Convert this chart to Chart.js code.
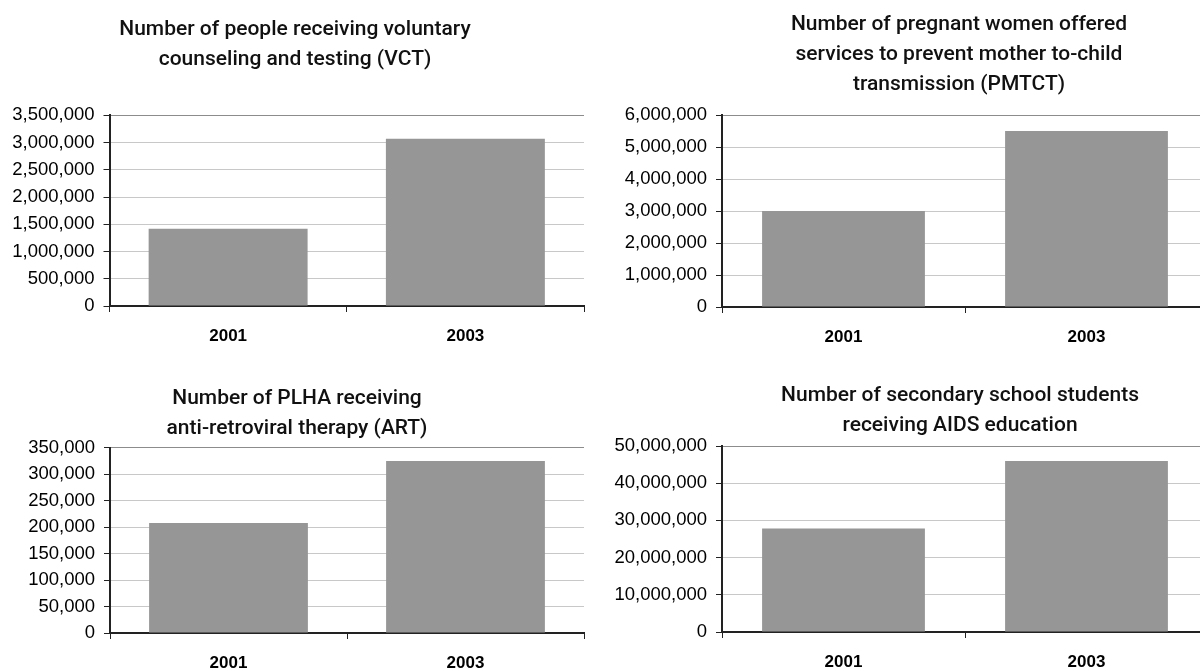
<!DOCTYPE html>
<html>
<head>
<meta charset="utf-8">
<script src="https://cdn.jsdelivr.net/npm/chart.js@4.4.1/dist/chart.umd.min.js"></script>
<style>
  html, body { margin: 0; padding: 0; background: #fff; overflow: hidden; }
  body { width: 1200px; height: 671px; position: relative; }
  canvas { position: absolute; }
</style>
</head>
<body>
<canvas id="vctChart"></canvas>
<canvas id="pmtctChart"></canvas>
<canvas id="artChart"></canvas>
<canvas id="aidsChart"></canvas>
<script>
// ---- data ----
const years = ['2001', '2003'];

const vctValues   = [1420000, 3070000];
const pmtctValues = [3000000, 5500000];
const artValues   = [208000, 325000];
const aidsValues  = [27800000, 46000000];

const vctTitle   = ['Number of people receiving voluntary', 'counseling and testing (VCT)'];
const pmtctTitle = ['Number of pregnant women offered', 'services to prevent mother to-child', 'transmission (PMTCT)'];
const artTitle   = ['Number of PLHA receiving', 'anti-retroviral therapy (ART)'];
const aidsTitle  = ['Number of secondary school students', 'receiving AIDS education'];

const vctTicks   = { max: 3500000,  step: 500000 };
const pmtctTicks = { max: 6000000,  step: 1000000 };
const artTicks   = { max: 350000,   step: 50000 };
const aidsTicks  = { max: 50000000, step: 10000000 };

// ---- look ----
const BAR = '#969696';
const GRID = '#c8c8c8';
const EDGE = '#8c8c8c';
const AXIS = '#222';
const TITLE_SIZE = 21;
const LINE_H = 30;
const X_H = 42;

// move the title block so it is centred where the original one was
const centerTitle = {
  id: 'centerTitle',
  afterLayout(chart, args, opts) {
    const t = chart.titleBlock;
    if (!t || opts.center == null) return;
    t.left = opts.center - 300;
    t.right = opts.center + 300;
    t.width = 600;
  }
};

// build one chart so its plot area lands on `area` (page pixels)
function makeChart(id, values, title, ticks, box) {
  const { L, T, area, center, titleTop } = box;
  const yw = area.l - L;
  const pr = 2;
  const W = area.r + pr - L;
  const H = area.b - T + X_H;
  const padTop = titleTop - T;
  const padBottom = area.t - T - padTop - title.length * LINE_H;

  const canvas = document.getElementById(id);
  canvas.width = W;
  canvas.height = H;
  canvas.style.left = L + 'px';
  canvas.style.top = T + 'px';

  new Chart(canvas.getContext('2d'), {
    type: 'bar',
    data: {
      labels: years,
      datasets: [{
        data: values,
        backgroundColor: BAR,
        borderWidth: 0,
        barPercentage: 0.67,
        categoryPercentage: 1
      }]
    },
    plugins: [centerTitle],
    options: {
      responsive: false,
      animation: false,
      devicePixelRatio: 1,
      layout: { padding: { left: 0, right: pr, top: 0, bottom: 0 } },
      plugins: {
        legend: { display: false },
        tooltip: { enabled: false },
        centerTitle: { center: center - L },
        title: {
          display: true,
          text: title,
          color: '#111',
          font: { family: 'Roboto, "Liberation Sans", Arial', size: TITLE_SIZE, weight: '500', lineHeight: LINE_H / TITLE_SIZE },
          padding: { top: padTop, bottom: padBottom }
        }
      },
      scales: {
        x: {
          offset: true,
          afterFit: s => { s.height = X_H; },
          border: { color: AXIS, width: 2 },
          grid: {
            offset: true,
            drawOnChartArea: true,
            color: ctx => ctx.index === years.length ? EDGE : 'rgba(0,0,0,0)',
            tickColor: AXIS,
            tickLength: 6
          },
          ticks: {
            color: '#000',
            padding: 14,
            font: { family: '"Liberation Sans", Arial', size: 17, weight: 'bold' }
          }
        },
        y: {
          min: 0,
          max: ticks.max,
          afterFit: s => { s.width = yw; },
          border: { color: AXIS, width: 2 },
          grid: {
            color: ctx => ctx.tick && ctx.tick.value === ticks.max ? EDGE : GRID,
            tickColor: AXIS,
            tickLength: 6
          },
          ticks: {
            stepSize: ticks.step,
            color: '#000',
            padding: 9,
            font: { family: '"Liberation Sans", Arial', size: 18.5 },
            callback: v => v.toLocaleString('en-US')
          }
        }
      }
    }
  });
}

makeChart('vctChart', vctValues, vctTitle, vctTicks,
  { L: 0, T: 0, area: { l: 109.5, r: 584, t: 115.3, b: 306.4 }, center: 295, titleTop: 15 });
makeChart('pmtctChart', pmtctValues, pmtctTitle, pmtctTicks,
  { L: 600, T: 0, area: { l: 722, r: 1208, t: 115, b: 307 }, center: 959, titleTop: 10 });
makeChart('artChart', artValues, artTitle, artTicks,
  { L: 0, T: 340, area: { l: 110, r: 584, t: 447.7, b: 633.7 }, center: 297, titleTop: 384 });
makeChart('aidsChart', aidsValues, aidsTitle, aidsTicks,
  { L: 600, T: 340, area: { l: 722, r: 1208, t: 446, b: 632.5 }, center: 960, titleTop: 381 });
</script>
</body>
</html>
